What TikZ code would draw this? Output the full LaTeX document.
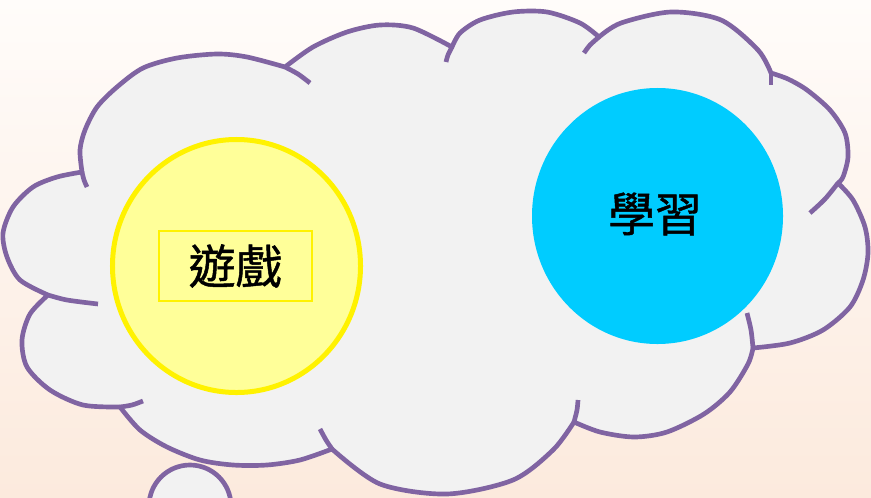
\documentclass[tikz,border=0pt]{standalone}
\usepackage{fontspec}
\newfontfamily\cjk{Noto Sans CJK TC}[FakeBold=1]
\usetikzlibrary{shapes.geometric}
\definecolor{cloudline}{HTML}{8064A2}
\definecolor{cloudfill}{HTML}{F2F2F2}
\definecolor{bgtop}{HTML}{FFFCFA}
\definecolor{bgbottom}{HTML}{FCEADD}
\definecolor{playfill}{HTML}{FFFF99}
\definecolor{studyfill}{HTML}{00CCFF}
\begin{document}
\begin{tikzpicture}[x=0.03cm,y=-0.03cm]
\tikzstyle{cloud}=[draw=cloudline, fill=cloudfill, line width=0.14cm, line join=round]
\tikzstyle{fold}=[draw=cloudline, line width=0.14cm]
\tikzstyle{word}=[font=\cjk\fontsize{40}{40}\selectfont]

\useasboundingbox (0,0) rectangle (871,497);
\clip (0,0) rectangle (871,497);
\shade[top color=bgtop, bottom color=bgbottom] (0,0) rectangle (871,497);

% cloud outline, one bump after the other
\path[cloud] plot[smooth] coordinates {(82,172) (80,150) (85,130) (97,107) (117,87) (143,68) (177,58) (217,54) (247,57) (285,67)}
  -- plot[smooth] coordinates {(285,67) (313,47) (347,32) (380,25) (413,28) (452,47)}
  -- plot[smooth] coordinates {(452,47) (460,33) (480,20) (513,12) (547,12) (580,23) (599,37)}
  -- plot[smooth] coordinates {(599,37) (621,23) (671,12) (721,20) (758,50) (771,73)}
  -- plot[smooth] coordinates {(771,73) (788,79) (807,90) (830,110) (845,133) (848,157) (843,177) (838,183)}
  -- plot[smooth] coordinates {(838,183) (853,200) (865,227) (868,253) (863,280) (850,307) (823,330) (790,343) (753,348)}
  -- plot[smooth] coordinates {(753,348) (748,364) (730,392) (704,414) (667,432) (634,437) (600,432) (574,422)}
  -- plot[smooth] coordinates {(574,422) (553,450) (513,480) (447,494) (380,484) (332,449)}
  -- plot[smooth] coordinates {(332,449) (300,460) (267,465) (233,465) (200,460) (167,447) (140,430) (120,407)}
  -- plot[smooth] coordinates {(120,407) (83,405) (50,390) (27,367) (22,340) (30,314) (48,295)}
  -- plot[smooth] coordinates {(48,295) (20,280) (7,257) (3,233) (13,207) (33,187) (57,177) (82,172)}
  -- cycle;

% inner ends of the bumps
\draw[fold] plot[smooth] coordinates {(82,172) (84,180) (87,187)};
\draw[fold] plot[smooth] coordinates {(285,67) (298,74) (310,83)};
\draw[fold] plot[smooth] coordinates {(452,47) (448,55) (446,62)};
\draw[fold] plot[smooth] coordinates {(599,37) (590,45) (584,53)};
\draw[fold] plot[smooth] coordinates {(771,73) (771,79) (771,85)};
\draw[fold] plot[smooth] coordinates {(838,183) (825,199) (810,213)};
\draw[fold] plot[smooth] coordinates {(753,348) (751,330) (747,313)};
\draw[fold] plot[smooth] coordinates {(574,422) (577,410) (578,400)};
\draw[fold] plot[smooth] coordinates {(332,449) (326,440) (320,429)};
\draw[fold] plot[smooth] coordinates {(120,407) (132,405) (143,401)};
\draw[fold] plot[smooth] coordinates {(48,295) (67,300) (98,304)};

% small bubble
\draw[cloud] (190,506) circle[radius=41];

\node[ellipse, draw=yellow, fill=playfill, line width=0.15cm, minimum width=7.44cm, minimum height=7.59cm] (playball) at (236.5,266) {};
\node[ellipse, fill=studyfill, minimum width=7.53cm, minimum height=7.68cm] (studyball) at (657.5,216) {};

\node[word, draw=yellow, line width=0.06cm, minimum width=4.59cm, minimum height=2.1cm, inner sep=0pt] (play) at (235.5,266) {遊戲};
\node[word] (study) at (655,214) {學習};

\end{tikzpicture}
\end{document}
